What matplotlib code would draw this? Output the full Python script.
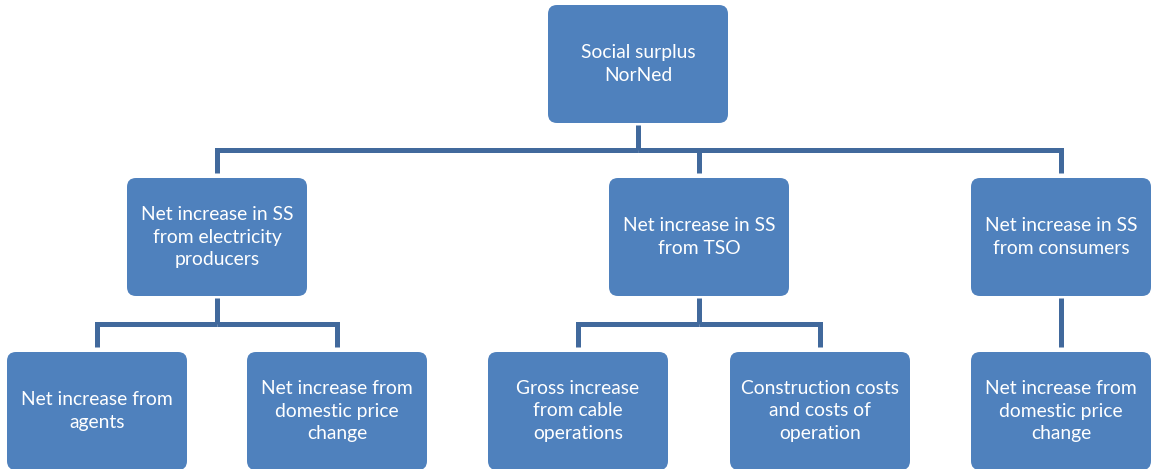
import matplotlib
matplotlib.use("Agg")
import matplotlib.pyplot as plt
from matplotlib.patches import FancyBboxPatch

# ---- data ----
root_label = "Social surplus\nNorNed"
level2_labels = [
    "Net increase in SS\nfrom electricity\nproducers",
    "Net increase in SS\nfrom TSO",
    "Net increase in SS\nfrom consumers",
]
level3_labels = [
    "Net increase from\nagents",
    "Net increase from\ndomestic price\nchange",
    "Gross increase\nfrom cable\noperations",
    "Construction costs\nand costs of\noperation",
    "Net increase from\ndomestic price\nchange",
]
level3_parent = [0, 0, 1, 1, 2]

# ---- layout (pixels) ----
W, H = 1152, 469
BOX_W, BOX_H = 180, 118
FILL = "#4F81BD"
LINE = "#41699C"
LW = 5 * 72 / 100

root_x, root_y = 548, 5
l2_x = [127, 609, 971]
l2_y = 178
l3_x = [7, 247, 488, 730, 971]
l3_y = 352

fig = plt.figure(figsize=(W / 100, H / 100), dpi=100)
ax = fig.add_axes([0, 0, 1, 1])
ax.set_xlim(0, W)
ax.set_ylim(H, 0)
ax.axis("off")

FONT = ["Lato", "DejaVu Sans"]


def box(x, y, label):
    p = FancyBboxPatch((x, y), BOX_W, BOX_H,
                       boxstyle="round,pad=0,rounding_size=9",
                       facecolor=FILL, edgecolor="none", zorder=2)
    ax.add_patch(p)
    ax.text(x + BOX_W / 2, y + BOX_H / 2, label, ha="center", va="center",
            color="white", fontsize=13.9, family=FONT, linespacing=1.36,
            zorder=3)


def connector(px, pbottom, child_xs, ctop):
    mid = (pbottom + ctop) / 2
    cxs = [cx + BOX_W / 2 for cx in child_xs]
    pcx = px + BOX_W / 2
    if len(cxs) == 1 and abs(cxs[0] - pcx) < 1:
        ax.plot([pcx, pcx], [pbottom + 2, ctop - 5], color=LINE, lw=LW,
                solid_capstyle="butt", zorder=1)
        return
    ax.plot([pcx, pcx], [pbottom + 2, mid], color=LINE, lw=LW,
            solid_capstyle="butt", zorder=1)
    for cx in cxs:
        ax.plot([cx, cx, pcx], [ctop - 5, mid, mid], color=LINE, lw=LW,
                solid_capstyle="butt", solid_joinstyle="miter", zorder=1)


connector(root_x, root_y + BOX_H, l2_x, l2_y)
for i, px in enumerate(l2_x):
    kids = [l3_x[j] for j, p in enumerate(level3_parent) if p == i]
    connector(px, l2_y + BOX_H, kids, l3_y)

box(root_x, root_y, root_label)
for x, lab in zip(l2_x, level2_labels):
    box(x, l2_y, lab)
for x, lab in zip(l3_x, level3_labels):
    box(x, l3_y, lab)

fig.savefig("out.png", dpi=100)
